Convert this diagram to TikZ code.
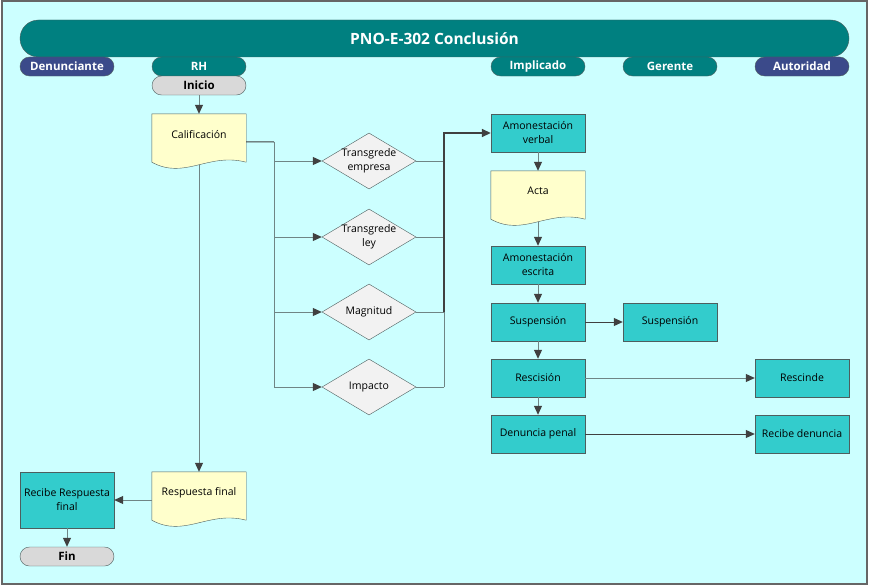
\documentclass[tikz,border=0pt]{standalone}
\usepackage{fontspec}
\setmainfont{Open Sans}
\usetikzlibrary{arrows.meta,shapes.geometric,calc}
\definecolor{bg}{HTML}{CCFFFF}
\definecolor{teal1}{HTML}{008080}
\definecolor{navy1}{HTML}{3B4A8A}
\definecolor{boxc}{HTML}{33CCCC}
\definecolor{docc}{HTML}{FFFFCC}
\definecolor{diac}{HTML}{F2F2F2}
\definecolor{termc}{HTML}{D9D9D9}
\definecolor{edgec}{HTML}{4D5E5E}
\definecolor{connc}{HTML}{6F8585}
\definecolor{tipc}{HTML}{404040}
\begin{document}
\begin{tikzpicture}[x=1pt,y=-1pt,
  txt/.style={font=\fontsize{10.5}{14}\selectfont, text=black},
  pill/.style={rectangle, rounded corners=9.5pt, draw=edgec, minimum width=94pt, minimum height=19pt, inner sep=0pt},
  lanehead/.style={pill, fill=teal1, text=white, font=\bfseries\fontsize{11.5}{13}\selectfont},
  lanenavy/.style={lanehead, fill=navy1},
  term/.style={pill, fill=termc, text=black, font=\bfseries\fontsize{11.5}{13}\selectfont},
  proc/.style={rectangle, draw=edgec, fill=boxc, minimum width=94pt, minimum height=38pt, inner sep=1pt, align=center, txt},
  docbox/.style={rectangle, minimum width=94pt, minimum height=48pt, inner sep=0pt, align=center, txt},
  dec/.style={diamond, draw=edgec, fill=diac, minimum width=94pt, minimum height=56pt, inner sep=-8pt, aspect=1.68, align=center, txt},
  conn/.style={draw=connc, line width=1pt},
  arr/.style={conn, -{Triangle[length=9pt,width=8pt,color=tipc]}},
  dark/.style={draw=tipc}
]
\useasboundingbox (0,0) rectangle (869,586);
\fill[white] (0,0) rectangle (869,586);
\draw[fill=bg, draw=gray!80!black, line width=2pt] (1.5,1.5) rectangle (866.5,584);

% title
\node[rectangle, rounded corners=18.5pt, draw=edgec, fill=teal1, minimum width=829pt, minimum height=37pt, text=white, font=\bfseries\fontsize{15.5}{18}\selectfont] (title) at (434.5,38.5) {PNO-E-302 Conclusión};

% lane headers
\node[lanenavy] (hden) at (67,66.5) {Denunciante};
\node[lanehead] (hrh) at (199,66.5) {RH};
\node[lanehead] (himp) at (538,66.5) {Implicado};
\node[lanehead] (hger) at (670,66.5) {Gerente};
\node[lanenavy] (haut) at (802,66.5) {Autoridad};

% terminals
\node[term] (inicio) at (199,85.5) {Inicio};
\node[term] (fin) at (67,556.5) {Fin};

% documents
\node[docbox] (cal) at (199,138) {};
\node[docbox] (acta) at (538,195) {};
\node[docbox] (resp) at (199,496) {};
\foreach \n in {cal,acta,resp}{
  \draw[draw=edgec, fill=docc] (\n.north west) -- (\n.north east) -- (\n.south east)
    .. controls ($(\n.south east)+(-38,-10)$) and ($(\n.south west)+(33,18)$) .. (\n.south west) -- cycle;
}
\node[txt] at ($(cal.center)+(0,-3)$) {Calificación};
\node[txt] at ($(acta.center)+(0,-4)$) {Acta};
\node[txt] at ($(resp.center)+(0,-3)$) {Respuesta final};

% decisions
\node[dec] (d1) at (369,161) {Transgrede\\empresa};
\node[dec] (d2) at (369,237) {Transgrede\\ley};
\node[dec] (d3) at (369,312) {Magnitud};
\node[dec] (d4) at (369,387) {Impacto};

% processes
\node[proc] (amv) at (538,133) {Amonestación\\verbal};
\node[proc] (ame) at (538,265) {Amonestación\\escrita};
\node[proc] (sus) at (538,322) {Suspensión};
\node[proc] (sus2) at (670,322) {Suspensión};
\node[proc] (res) at (538,378) {Rescisión};
\node[proc] (resc) at (802,378) {Rescinde};
\node[proc] (den) at (538,434) {Denuncia penal};
\node[proc] (recden) at (802,434) {Recibe denuncia};
\node[proc, minimum height=56pt] (recresp) at (67,500) {Recibe Respuesta\\final};

% connectors
\draw[arr] (inicio) -- (cal.north);
\coordinate (calout) at ($(cal.north east)+(0,28)$);
\coordinate (split) at (274,142);
\draw[conn, dark] (calout) -- (split);
\foreach \d in {d1,d2,d3,d4}{
  \draw[arr] (split) |- (\d.west);
}
% diamonds to Amonestación verbal
\foreach \d in {d1,d2,d3,d4}{
  \draw[conn] (\d.east) -- ($(\d.east)+(28,0)$);
}
\draw[conn] ($(d4.east)+(28,0)$) -- ($(d3.east)+(28,0)$);
\draw[arr, dark, line width=1.6pt] ($(d3.east)+(28,0)$) |- (amv.west);

\draw[arr] (amv) -- (acta.north);
\draw[arr] ($(acta.south)+(0,3)$) -- (ame);
\draw[arr] (ame) -- (sus);
\draw[arr] (sus) -- (res);
\draw[arr] (res) -- (den);
\draw[arr, dark] (sus) -- (sus2);
\draw[arr] (res) -- (resc);
\draw[arr, dark] (den) -- (recden);
\draw[arr] ($(cal.south)+(0,3)$) -- (resp.north);
\draw[arr] (resp.west |- recresp.east) -- (recresp.east);
\draw[arr] (recresp) -- (fin);
\end{tikzpicture}
\end{document}
